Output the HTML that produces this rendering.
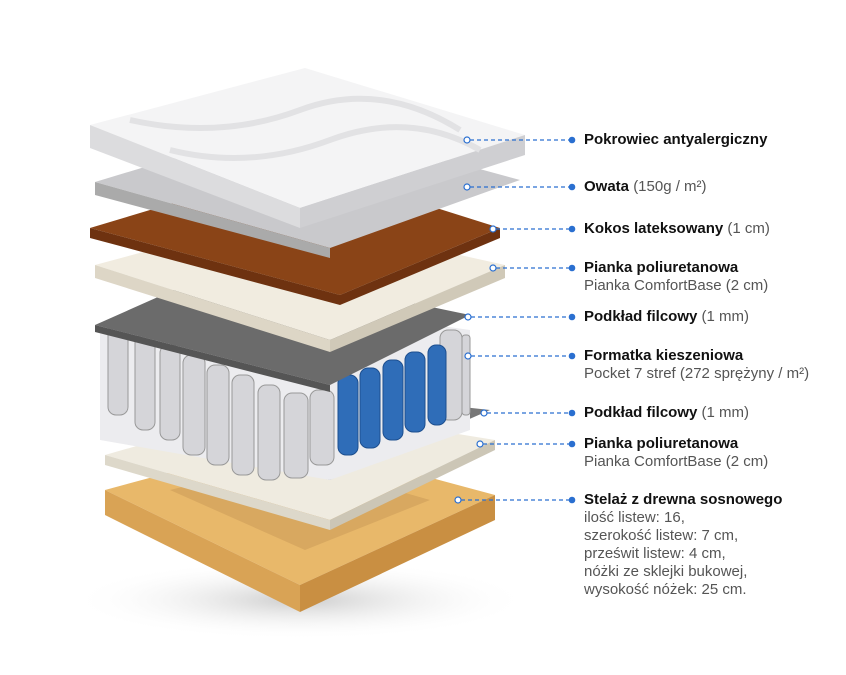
<!DOCTYPE html>
<html><head><meta charset="utf-8"><style>
body{margin:0;background:#fff;width:846px;height:675px;overflow:hidden;font-family:"Liberation Sans",sans-serif}
.l{position:absolute;left:584px;font-size:15px;color:#111;line-height:18px;white-space:nowrap}
.l b{font-weight:bold}
.l span{color:#555}
</style></head><body>
<svg width="846" height="675" style="position:absolute;left:0;top:0">
<defs>
<radialGradient id="sh" cx="50%" cy="50%" r="50%"><stop offset="0" stop-color="#999" stop-opacity=".5"/><stop offset="1" stop-color="#fff" stop-opacity="0"/></radialGradient>
</defs>
<ellipse cx="300" cy="600" rx="230" ry="40" fill="url(#sh)"/>
<polygon points="105,490 290,440 495,495 300,585" fill="#e8b86a"/>
<polygon points="105,490 300,585 300,612 105,515" fill="#d9a355"/>
<polygon points="300,585 495,495 495,520 300,612" fill="#c98f42"/>
<polygon points="170,490 290,460 430,500 305,550" fill="#d8a860"/>
<polygon points="105,455 280,405 495,440 330,520" fill="#efebe0"/>
<polygon points="105,455 330,520 330,530 105,465" fill="#ddd8ca"/>
<polygon points="330,520 495,440 495,450 330,530" fill="#ccc6b6"/>
<polygon points="110,425 260,385 490,410 330,480" fill="#777"/>
<polygon points="100,330 260,300 470,330 470,430 330,480 100,440" fill="#ececef"/>
<g fill="#d5d5d9" stroke="#999" stroke-width="1">
<rect x="108" y="325" width="20" height="90" rx="8"/><rect x="135" y="335" width="20" height="95" rx="8"/><rect x="160" y="345" width="20" height="95" rx="8"/><rect x="183" y="355" width="22" height="100" rx="8"/><rect x="207" y="365" width="22" height="100" rx="8"/><rect x="232" y="375" width="22" height="100" rx="8"/><rect x="258" y="385" width="22" height="95" rx="8"/><rect x="284" y="393" width="24" height="85" rx="8"/><rect x="310" y="390" width="24" height="75" rx="8"/>
<rect x="440" y="330" width="22" height="90" rx="8"/><rect x="462" y="335" width="8" height="80" rx="3"/>
</g>
<g fill="#2f6db8" stroke="#1d4f8f" stroke-width="1">
<rect x="338" y="375" width="20" height="80" rx="8"/><rect x="360" y="368" width="20" height="80" rx="8"/><rect x="383" y="360" width="20" height="80" rx="8"/><rect x="405" y="352" width="20" height="80" rx="8"/><rect x="428" y="345" width="18" height="80" rx="8"/>
</g>
<polygon points="95,325 230,265 470,315 330,385" fill="#6b6b6b"/>
<polygon points="95,325 330,385 330,392 95,332" fill="#555"/>
<polygon points="95,265 280,215 505,265 330,340" fill="#f1ece0"/>
<polygon points="95,265 330,340 330,352 95,278" fill="#ddd6c6"/>
<polygon points="330,340 505,265 505,278 330,352" fill="#d0c9b8"/>
<polygon points="90,228 300,165 500,228 340,295" fill="#8a4417"/>
<polygon points="90,228 340,295 340,305 90,238" fill="#6e3210"/>
<polygon points="340,295 500,228 500,238 340,305" fill="#6e3210"/>
<polygon points="95,182 300,120 520,180 330,248" fill="#c9c9cc"/>
<polygon points="95,182 330,248 330,258 95,195" fill="#aaa"/>
<polygon points="90,125 305,68 525,135 300,208" fill="#f4f4f5"/>
<polygon points="90,125 300,208 300,228 90,148" fill="#dcdcde"/>
<polygon points="300,208 525,135 525,155 300,228" fill="#cfcfd2"/>
<path d="M130,120 Q220,140 300,110 T460,130" stroke="#e2e2e4" stroke-width="6" fill="none"/>
<path d="M170,150 Q250,170 330,140 T480,150" stroke="#e2e2e4" stroke-width="6" fill="none"/>
<g stroke="#2a6fd0" stroke-width="1.2" stroke-dasharray="4,3" fill="none">
<line x1="470" y1="140" x2="571" y2="140"/><line x1="470" y1="187" x2="571" y2="187"/><line x1="496" y1="229" x2="571" y2="229"/><line x1="496" y1="268" x2="571" y2="268"/><line x1="471" y1="317" x2="571" y2="317"/><line x1="471" y1="356" x2="571" y2="356"/><line x1="487" y1="413" x2="571" y2="413"/><line x1="483" y1="444" x2="571" y2="444"/><line x1="461" y1="500" x2="571" y2="500"/>
</g>
<g fill="#2a6fd0">
<circle cx="572" cy="140" r="3.3"/><circle cx="572" cy="187" r="3.3"/><circle cx="572" cy="229" r="3.3"/><circle cx="572" cy="268" r="3.3"/><circle cx="572" cy="317" r="3.3"/><circle cx="572" cy="356" r="3.3"/><circle cx="572" cy="413" r="3.3"/><circle cx="572" cy="444" r="3.3"/><circle cx="572" cy="500" r="3.3"/>
</g>
<g fill="#fff" stroke="#2a6fd0" stroke-width="1.2">
<circle cx="467" cy="140" r="3"/><circle cx="467" cy="187" r="3"/><circle cx="493" cy="229" r="3"/><circle cx="493" cy="268" r="3"/><circle cx="468" cy="317" r="3"/><circle cx="468" cy="356" r="3"/><circle cx="484" cy="413" r="3"/><circle cx="480" cy="444" r="3"/><circle cx="458" cy="500" r="3"/>
</g>
</svg>
<div class="l" style="top:131px"><b>Pokrowiec antyalergiczny</b></div>
<div class="l" style="top:178px"><b>Owata</b> <span>(150g / m²)</span></div>
<div class="l" style="top:220px"><b>Kokos lateksowany</b> <span>(1 cm)</span></div>
<div class="l" style="top:259px"><b>Pianka poliuretanowa</b><br><span>Pianka ComfortBase (2 cm)</span></div>
<div class="l" style="top:308px"><b>Podkład filcowy</b> <span>(1 mm)</span></div>
<div class="l" style="top:347px"><b>Formatka kieszeniowa</b><br><span>Pocket 7 stref (272 sprężyny / m²)</span></div>
<div class="l" style="top:404px"><b>Podkład filcowy</b> <span>(1 mm)</span></div>
<div class="l" style="top:435px"><b>Pianka poliuretanowa</b><br><span>Pianka ComfortBase (2 cm)</span></div>
<div class="l" style="top:491px"><b>Stelaż z drewna sosnowego</b><br><span>ilość listew: 16,<br>szerokość listew: 7 cm,<br>prześwit listew: 4 cm,<br>nóżki ze sklejki bukowej,<br>wysokość nóżek: 25 cm.</span></div>
</body></html>
